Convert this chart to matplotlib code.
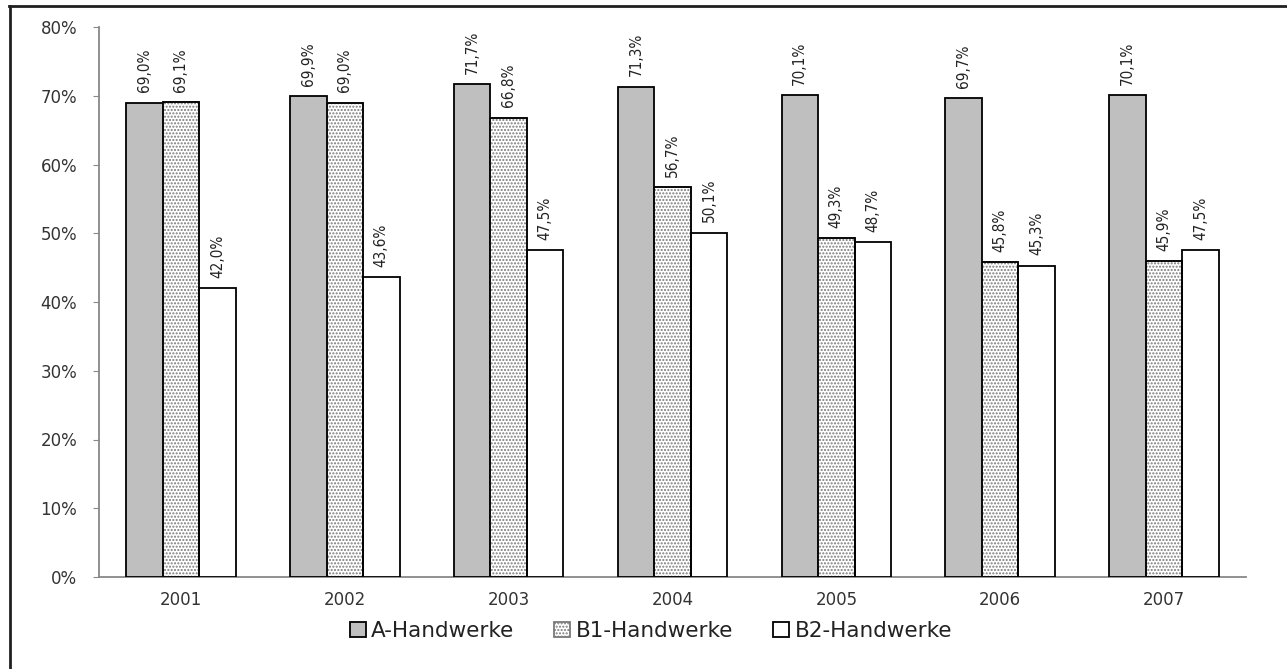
import matplotlib
matplotlib.use("Agg")
import matplotlib.pyplot as plt
import numpy as np
from matplotlib.patches import Rectangle

years = ["2001", "2002", "2003", "2004", "2005", "2006", "2007"]
a_vals = [69.0, 69.9, 71.7, 71.3, 70.1, 69.7, 70.1]
b1_vals = [69.1, 69.0, 66.8, 56.7, 49.3, 45.8, 45.9]
b2_vals = [42.0, 43.6, 47.5, 50.1, 48.7, 45.3, 47.5]
series_names = ["A-Handwerke", "B1-Handwerke", "B2-Handwerke"]
y_ticks = [0, 10, 20, 30, 40, 50, 60, 70, 80]

plt.rcParams["hatch.linewidth"] = 1.0
fig = plt.figure(figsize=(12.87, 6.69), dpi=100)
ax = fig.add_axes([99 / 1287, 92 / 669, 1147 / 1287, 550 / 669])

x = np.arange(len(years))
w = 0.223
styles = [
    dict(facecolor="#bfbfbf", hatch=None),
    dict(facecolor="white", hatch="....."),
    dict(facecolor="white", hatch=None),
]
handles = []
for i, (vals, st) in enumerate(zip([a_vals, b1_vals, b2_vals], styles)):
    pos = x + (i - 1) * w
    bars = ax.bar(pos, vals, width=w, facecolor=st["facecolor"], edgecolor="black",
                  linewidth=1.3, hatch=st["hatch"], label=series_names[i], zorder=3)
    if st["hatch"]:
        for b in bars:
            b.set_edgecolor("#7a7a7a")
            ax.add_patch(Rectangle(b.get_xy(), b.get_width(), b.get_height(),
                                   fill=False, edgecolor="black", linewidth=1.3, zorder=4))
    handles.append(bars)
    for p, v in zip(pos, vals):
        ax.text(p, v + 1.5, f"{v:.1f}%".replace(".", ","), rotation=90,
                ha="center", va="bottom", fontsize=11, fontstretch="condensed",
                family="DejaVu Sans", color="#222222")

ax.set_xlim(-0.5, len(years) - 0.5)
ax.set_ylim(0, 80)
ax.set_yticks(y_ticks)
ax.set_yticklabels([f"{t}%" for t in y_ticks], fontsize=12, color="#333333")
ax.set_xticks(x)
ax.set_xticklabels(years, fontsize=12, color="#333333")
ax.tick_params(axis="x", length=0, pad=10)
ax.tick_params(axis="y", length=4.3, color="#888888", pad=11.5)
for s in ["top", "right"]:
    ax.spines[s].set_visible(False)
for s in ["left", "bottom"]:
    ax.spines[s].set_color("#888888")
    ax.spines[s].set_linewidth(1.3)

leg = fig.legend(handles=handles, labels=series_names, loc="center",
                 bbox_to_anchor=(651 / 1287, 1 - 631 / 669),
                 ncol=3, frameon=False, fontsize=15.5, handlelength=0.74, handleheight=0.74,
                 columnspacing=1.86, handletextpad=0.26, borderpad=0, borderaxespad=0)
for t in leg.get_texts():
    t.set_color("#222222")

# outer frame (top and left edges visible)
fig.add_artist(plt.Line2D([9 / 1287, 1.0], [1 - 6 / 669, 1 - 6 / 669], transform=fig.transFigure,
                          color="#231f20", linewidth=2.0))
fig.add_artist(plt.Line2D([10 / 1287, 10 / 1287], [0, 1 - 6 / 669], transform=fig.transFigure,
                          color="#231f20", linewidth=2.0))

fig.savefig("out.png", dpi=100)
